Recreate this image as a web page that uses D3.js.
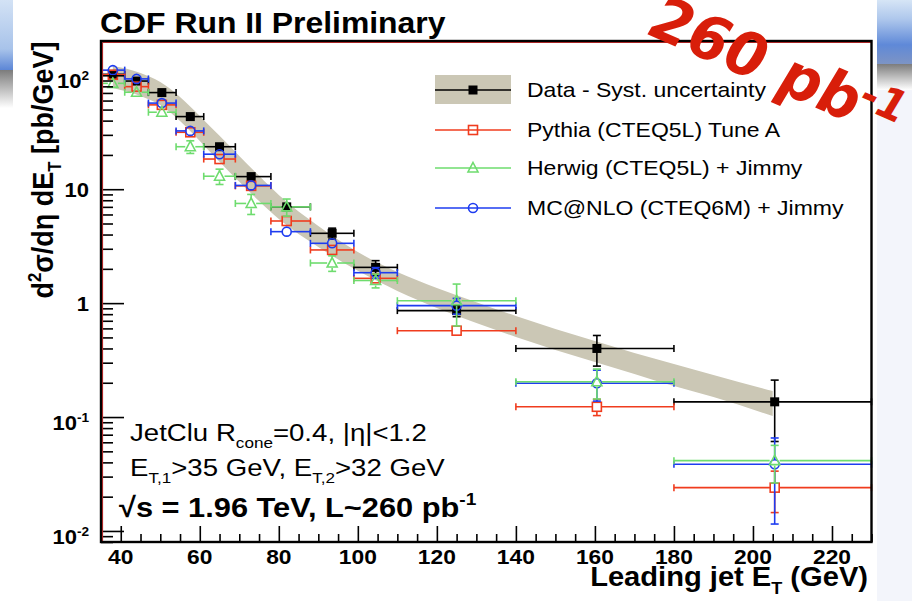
<!DOCTYPE html>
<html>
<head>
<meta charset="utf-8">
<script src="https://cdn.jsdelivr.net/npm/d3@7"></script>
<style>
  body { margin: 0; background: #fff; }
  text { font-family: "Liberation Sans", Arial, sans-serif; }
</style>
</head>
<body>
<script>
// bins in leading jet ET (GeV)
var binLo = [35, 41, 47, 54, 61, 69, 78, 88, 99, 110, 140, 180];
var binHi = [41, 47, 54, 61, 69, 78, 88, 99, 110, 140, 180, 230];
var binX  = [38, 44, 50.4, 57.6, 65, 73, 82, 93.5, 104.5, 125, 160.5, 205.5];

// d2sigma/deta dET [pb/GeV]
var dataY     = [102, 89, 70.5, 43.4, 23.6, 12.9, 7.0, 4.1, 2.06, 0.86, 0.40, 0.136];
var dataErr   = [3, 2.5, 2, 1.3, 0.7, 0.4, 0.25, 0.45, 0.3, 0.1, 0.12, 0.075];
var pythiaY   = [101, 79.5, 55, 31.6, 18.4, 10.7, 5.26, 2.93, 1.65, 0.573, 0.123, 0.024];
var pythiaErr = [3, 2.5, 1.7, 1.2, 0.8, 0.5, 0.3, 0.2, 0.13, 0.05, 0.02, 0.0095];
var herwigY   = [85, 71, 47.4, 23.6, 13.0, 7.5, 7.0, 2.25, 1.58, 1.05, 0.204, 0.0414];
var herwigErr = [4, 3.5, 4, 3, 2, 1.5, 1.2, 0.35, 0.22, 0.42, 0.06, 0.015];
var mcnloY    = [111, 93, 57, 32.5, 20.3, 10.8, 4.24, 3.35, 1.85, 0.95, 0.198, 0.0385];
var mcnloErr  = [4, 3.5, 3, 2, 1.3, 0.8, 0.35, 0.3, 0.2, 0.15, 0.06, 0.027];

// systematic band
var bandE  = [38, 45, 50, 55, 60, 65, 70, 75, 80, 90, 100, 110, 120, 130, 140, 150, 160, 170, 180, 190, 205];
var bandHi = [120.8, 104.9, 87.4, 64.6, 44.0, 29.4, 19.6, 13.1, 8.9, 4.76, 2.81, 1.88, 1.36, 1.02, 0.771, 0.593, 0.465, 0.365, 0.292, 0.234, 0.169];
var bandLo = [77.4, 65.9, 54.9, 39.7, 26.5, 17.4, 11.6, 7.89, 5.48, 3.11, 1.92, 1.28, 0.906, 0.669, 0.504, 0.388, 0.304, 0.239, 0.187, 0.150, 0.102];

var xMajor = [40, 60, 80, 100, 120, 140, 160, 180, 200, 220];
var yMajor = [0.01, 0.1, 1, 10, 100];
var yLabels = [["10", "-2"], ["10", "-1"], ["1", ""], ["10", ""], ["10", "2"]];

var legendLabels = ["Data - Syst. uncertainty", "Pythia (CTEQ5L) Tune A", "Herwig (CTEQ5L) + Jimmy", "MC@NLO (CTEQ6M) + Jimmy"];
var colBlack = "#000", colRed = "#f03c1e", colGreen = "#6edc6e", colBlue = "#1e3cf0", colBand = "#cbc7b5";

const W = 912, H = 601;
const svg = d3.select("body").append("svg").attr("width", W).attr("height", H);

const x = d3.scaleLinear().domain([35, 230]).range([101, 871.5]);
const y = d3.scaleLog().domain([0.008, 200]).range([542, 41]);

// text with sub/superscripts
function richText(parent, px, py, parts, size, opts) {
  opts = opts || {};
  var tr = "translate(" + px + "," + py + ") scale(" + (opts.sx || 1) + "," + (opts.sy || 1) + ")";
  if (opts.rotate) tr += " rotate(" + opts.rotate + ")";
  var g = parent.append("g").attr("transform", tr);
  var t = g.append("text")
    .attr("font-size", size)
    .attr("font-weight", opts.weight || "normal")
    .attr("text-anchor", opts.anchor || "start")
    .attr("fill", opts.fill || "#000");
  if (opts.family) t.style("font-family", opts.family);
  if (opts.italic) t.attr("font-style", "italic");
  var supScale = opts.supScale || 0.62, supRaise = opts.supRaise || 0.42;
  var shift = 0;
  parts.forEach(function(p) {
    var s = Array.isArray(p) ? p[0] : p, kind = Array.isArray(p) ? p[1] : "";
    var target = kind === "sup" ? -supRaise * size : kind === "sub" ? 0.28 * size : 0;
    t.append("tspan").attr("dy", target - shift)
      .attr("font-size", kind === "sup" ? size * supScale : kind ? size * 0.62 : size).text(s);
    shift = target;
  });
  return t;
}

// slide background bits
var defs = svg.append("defs");
function vgrad(id, stops) {
  var lg = defs.append("linearGradient").attr("id", id).attr("x1", 0).attr("y1", 0).attr("x2", 0).attr("y2", 1);
  stops.forEach(function(s) { lg.append("stop").attr("offset", s[0]).attr("stop-color", s[1]); });
}
vgrad("blueL", [[0, "#d3e2f5"], [0.7, "#a8c3ea"], [1, "#5c86d6"]]);
vgrad("blueR", [[0, "#d6e5f6"], [0.3, "#aec7ec"], [0.7, "#5f89d8"], [1, "#7d94c4"]]);
vgrad("gray", [[0, "#7c7c7c"], [1, "#ffffff"]]);
svg.append("rect").attr("x", 0).attr("y", 0).attr("width", 13).attr("height", 70).attr("fill", "url(#blueL)");
svg.append("rect").attr("x", 0).attr("y", 70).attr("width", 13).attr("height", 38).attr("fill", "url(#gray)");
svg.append("rect").attr("x", 877).attr("y", 0).attr("width", 35).attr("height", 64).attr("fill", "url(#blueR)");
svg.append("rect").attr("x", 877).attr("y", 64).attr("width", 35).attr("height", 26).attr("fill", "url(#gray)");
svg.append("rect").attr("x", 877).attr("y", 90).attr("width", 35).attr("height", 511).attr("fill", "#f3f5fb");

// band
const area = d3.area()
  .x(function(d, i) { return x(bandE[i]); })
  .y0(function(d, i) { return y(bandLo[i]); })
  .y1(function(d, i) { return y(bandHi[i]); })
  .curve(d3.curveMonotoneX);
svg.append("path").datum(bandE).attr("d", area).attr("fill", colBand);

function seg(g, x1, y1, x2, y2) {
  g.append("line").attr("x1", x1).attr("y1", y1).attr("x2", x2).attr("y2", y2);
}

var markers = {
  fsquare: function(g, cx, cy) { g.append("rect").attr("x", cx - 4.5).attr("y", cy - 4.5).attr("width", 9).attr("height", 9).attr("fill", colBlack).attr("stroke", "none"); },
  square: function(g, cx, cy) { g.append("rect").attr("x", cx - 4.5).attr("y", cy - 4.5).attr("width", 9).attr("height", 9); },
  triangle: function(g, cx, cy) { g.append("path").attr("d", "M" + cx + "," + (cy - 5.5) + "L" + (cx + 5) + "," + (cy + 4) + "L" + (cx - 5) + "," + (cy + 4) + "Z"); },
  circle: function(g, cx, cy) { g.append("circle").attr("cx", cx).attr("cy", cy).attr("r", 4.5); }
};

function drawSeries(vals, errs, color, marker, gap) {
  var g = svg.append("g").attr("stroke", color).attr("stroke-width", 1.6).attr("fill", "none");
  vals.forEach(function(v, i) {
    var cx = x(binX[i]), cy = y(v);
    var x0 = x(binLo[i]), x1 = x(binHi[i]);
    var yt = y(v + errs[i]), yb = y(Math.max(v - errs[i], 1e-4));
    seg(g, x0, cy, cx - gap, cy);
    seg(g, cx + gap, cy, x1, cy);
    seg(g, x0, cy - 3.5, x0, cy + 3.5);
    seg(g, x1, cy - 3.5, x1, cy + 3.5);
    if (cy - gap > yt + 0.5) { seg(g, cx, yt, cx, cy - gap); seg(g, cx - 4, yt, cx + 4, yt); }
    if (yb > cy + gap + 0.5) { seg(g, cx, cy + gap, cx, yb); seg(g, cx - 4, yb, cx + 4, yb); }
    markers[marker](g, cx, cy);
  });
}

drawSeries(dataY, dataErr, colBlack, "fsquare", 0);
drawSeries(pythiaY, pythiaErr, colRed, "square", 4.5);
drawSeries(mcnloY, mcnloErr, colBlue, "circle", 4.5);
drawSeries(herwigY, herwigErr, colGreen, "triangle", 5);

// axes: ticks point inward (ROOT style)
svg.append("g").attr("transform", "translate(0,542)")
  .call(d3.axisTop(x).tickValues(xMajor).tickSize(16).tickFormat(""));
svg.append("g").attr("transform", "translate(0,542)")
  .call(d3.axisTop(x).tickValues(d3.range(40, 231, 5).filter(function(v) { return v % 20 !== 0; })).tickSize(8).tickFormat(""));
var yMinor = [];
[0.001, 0.01, 0.1, 1, 10, 100].forEach(function(d) {
  for (var k = 2; k <= 9; k++) { var v = d * k; if (v >= 0.008 && v <= 200) yMinor.push(v); }
});
svg.append("g").attr("transform", "translate(101,0)")
  .call(d3.axisRight(y).tickValues(yMajor).tickSize(23).tickFormat(""));
svg.append("g").attr("transform", "translate(101,0)")
  .call(d3.axisRight(y).tickValues(yMinor).tickSize(12).tickFormat(""));
svg.selectAll(".domain").remove();
svg.selectAll(".tick line").attr("stroke", "#000").attr("stroke-width", 1.6);

// frame
svg.append("line").attr("x1", 102.5).attr("y1", 42.5).attr("x2", 871).attr("y2", 42.5).attr("stroke", "#d43030").attr("stroke-width", 1.2);
svg.append("line").attr("x1", 102.5).attr("y1", 42.5).attr("x2", 102.5).attr("y2", 541).attr("stroke", "#d43030").attr("stroke-width", 1.2);
svg.append("rect").attr("x", x(35)).attr("y", 41).attr("width", x(230) - x(35)).attr("height", 501)
  .attr("fill", "none").attr("stroke", "#000").attr("stroke-width", 2.4);

// tick labels
xMajor.forEach(function(v) {
  richText(svg, x(v), 564, [String(v)], 20, { weight: "bold", anchor: "middle", sx: 1.14 });
});
yMajor.forEach(function(v, i) {
  var lab = yLabels[i];
  var parts = [lab[0]];
  if (lab[1]) parts.push([lab[1], "sup"]);
  richText(svg, 89, y(v) + (lab[1] ? 13 : 8), parts, 20, { weight: "bold", anchor: "end", sx: 1.1 });
});

// titles
richText(svg, 100, 33, ["CDF Run II Preliminary"], 29, { weight: "bold", sx: 1.1 });
richText(svg, 868, 586, ["Leading jet E", ["T", "sub"], " (GeV)"], 28, { weight: "bold", anchor: "end", sx: 1.04 });
richText(svg, 53, 170, ["d", ["2", "sup"], "σ/dη dE", ["T", "sub"], " [pb/GeV]"], 27, { weight: "bold", anchor: "middle", rotate: -90, sx: 1.1 });

// annotations
richText(svg, 130, 441, ["JetClu R", ["cone", "sub"], "=0.4, |η|<1.2"], 24, { sx: 1.15 });
richText(svg, 130, 476, ["E", ["T,1", "sub"], ">35 GeV, E", ["T,2", "sub"], ">32 GeV"], 24, { sx: 1.15 });
richText(svg, 119, 517, ["√s = 1.96 TeV, L~260 pb", ["-1", "sup"]], 28, { weight: "bold", sx: 1.1 });

// legend
var legY = [90, 130, 168, 208];
var lg = svg.append("g");
lg.append("rect").attr("x", 435).attr("y", 75).attr("width", 76).attr("height", 29).attr("fill", colBand);
var legCols = [colBlack, colRed, colGreen, colBlue];
var legMarks = ["fsquare", "square", "triangle", "circle"];
legendLabels.forEach(function(name, i) {
  var g = lg.append("g").attr("stroke", legCols[i]).attr("stroke-width", 1.6).attr("fill", "none");
  seg(g, 435, legY[i], 511, legY[i]);
  markers[legMarks[i]](g, 473, legY[i]);
  richText(lg, 527, legY[i] + 7, [name], 20, { sx: 1.15 });
});

// red overlay text from the slide
richText(svg, 647, 34, ["260 pb", ["-1", "sup"]], 57, {
  weight: "bold", italic: true, fill: "#d81e0a", rotate: 22, sy: 1.08,
  supScale: 0.72, supRaise: 0.3, family: "'DejaVu Sans', sans-serif"
});
</script>
</body>
</html>
